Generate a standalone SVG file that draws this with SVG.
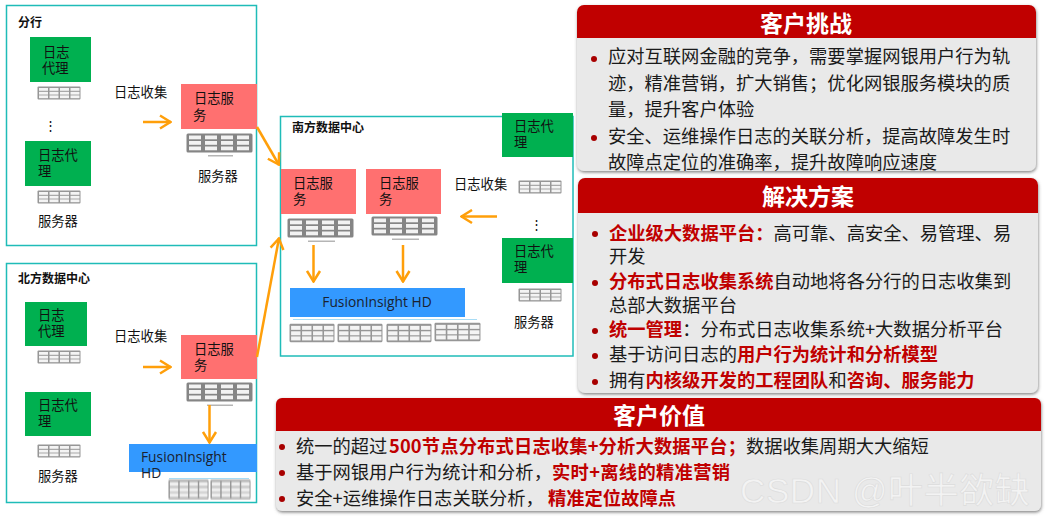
<svg xmlns="http://www.w3.org/2000/svg" width="1047" height="520" viewBox="0 0 1047 520">
<style>
text{font-family:"Noto Sans CJK SC","Liberation Sans",sans-serif;fill:#111}
.box{fill:#fff;stroke:#1fbcb8;stroke-width:1.5}
.t{font-size:13.3px}
.ti{font-size:12px;font-weight:700}
.en{font-family:"Open Sans","Noto Sans",sans-serif;font-size:13.8px;fill:#1a2230}
.g{fill:#00b050}.p{fill:#ff7070}.b{fill:#3399ff}
.conn{fill:none;stroke:#ff9f0a;stroke-width:2.5;marker-end:url(#arr)}
.hd{fill:#c00000}
.body{fill:#e9e9e9;filter:url(#sh)}
.h{font-size:23px;font-weight:700;fill:#fff;text-anchor:middle}
.l{font-size:18.3px;fill:#1a1a1a}
.r{font-weight:700;fill:#c00000}
.dot{fill:#a80000}
.mk{fill:#b5b5b5}
.cy{stroke:#a8dcf5;stroke-width:1}
</style>
<defs>
<marker id="arr" viewBox="0 0 13 16" refX="12" refY="8" markerWidth="13" markerHeight="16" markerUnits="userSpaceOnUse" orient="auto"><path d="M1,1.500 L11.500,8 L1,14.500" fill="none" stroke="#ff9f0a" stroke-width="2.5"/></marker>
<filter id="sh" x="-3%" y="-6%" width="106%" height="112%"><feDropShadow dx="0.5" dy="1.5" stdDeviation="1.5" flood-color="#555" flood-opacity="0.7"/></filter>
<filter id="bl" x="-5%" y="-10%" width="110%" height="120%"><feGaussianBlur stdDeviation="0.55"/></filter>
<symbol id="sa" viewBox="0 0 44 14" preserveAspectRatio="none"><g filter="url(#bl)"><rect x="0.5" y="0.5" width="43" height="13" rx="1" fill="#969696"/><g fill="#f4f4f4"><rect x="2" y="2" width="9" height="2.800"/><rect x="12.500" y="2" width="9" height="2.800"/><rect x="23" y="2" width="9" height="2.800"/><rect x="33.500" y="2" width="9" height="2.800"/><rect x="2" y="5.800" width="9" height="2.800"/><rect x="12.500" y="5.800" width="9" height="2.800"/><rect x="23" y="5.800" width="9" height="2.800"/><rect x="33.500" y="5.800" width="9" height="2.800"/><rect x="2" y="9.400" width="9" height="2.800"/><rect x="12.500" y="9.400" width="9" height="2.800"/><rect x="23" y="9.400" width="9" height="2.800"/><rect x="33.500" y="9.400" width="9" height="2.800"/></g></g></symbol>
<symbol id="sb" viewBox="0 0 67 20" preserveAspectRatio="none"><g filter="url(#bl)"><rect x="0.5" y="0.5" width="66" height="19" rx="1.500" fill="#858585"/><g fill="#f2f2f2"><rect x="3" y="2.500" width="12" height="3.800"/><rect x="19" y="2.500" width="12" height="3.800"/><rect x="35" y="2.500" width="12" height="3.800"/><rect x="51" y="2.500" width="12" height="3.800"/><rect x="3" y="8" width="12" height="3.800"/><rect x="19" y="8" width="12" height="3.800"/><rect x="35" y="8" width="12" height="3.800"/><rect x="51" y="8" width="12" height="3.800"/><rect x="3" y="13.500" width="12" height="3.800"/><rect x="19" y="13.500" width="12" height="3.800"/><rect x="35" y="13.500" width="12" height="3.800"/><rect x="51" y="13.500" width="12" height="3.800"/></g></g></symbol>
</defs>
<rect width="1047" height="520" fill="#fff"/>

<g id="branch-box"><rect class="box" x="6.500" y="5.500" width="250" height="240"/><text class="ti" x="18" y="27">分行</text></g>
<g id="north-box"><rect class="box" x="6.500" y="263.500" width="250" height="239"/><text class="ti" x="18" y="283">北方数据中心</text></g>
<g id="south-box"><rect class="box" x="280.500" y="116.500" width="292.500" height="239.500"/><text class="ti" x="292" y="132">南方数据中心</text></g>

<g id="branch-agent-1"><rect class="g" x="30" y="37" width="61" height="45"/><text class="t"><tspan x="43" y="57">日志</tspan><tspan x="42" y="73">代理</tspan></text><use href="#sa" x="37" y="86" width="44" height="14"/></g>
<text class="t" x="43.500" y="130" style="font-size:13px">⋮</text>
<g id="branch-agent-2"><rect class="g" x="25" y="141" width="66" height="45"/><text class="t"><tspan x="38" y="160">日志代</tspan><tspan x="38" y="176">理</tspan></text><use href="#sa" x="37" y="190" width="44" height="14"/><text class="t" x="38" y="226">服务器</text></g>
<g id="branch-log"><text class="t" x="114" y="97">日志收集</text></g>
<g id="branch-service"><rect class="p" x="181" y="84" width="76" height="45"/><text class="t"><tspan x="194" y="103">日志服</tspan><tspan x="193" y="120">务</tspan></text><use href="#sb" x="186" y="133" width="67" height="20"/><rect class="mk" x="208" y="155" width="25" height="1.500"/><text class="t" x="198" y="181">服务器</text></g>

<g id="north-agent-1"><rect class="g" x="25" y="302" width="62" height="44"/><text class="t"><tspan x="38" y="320">日志</tspan><tspan x="38" y="336">代理</tspan></text><use href="#sa" x="37" y="350" width="44" height="14"/></g>
<g id="north-agent-2"><rect class="g" x="25" y="392" width="66" height="44"/><text class="t"><tspan x="38" y="410">日志代</tspan><tspan x="38" y="426">理</tspan></text><use href="#sa" x="37" y="444" width="44" height="14"/><text class="t" x="38" y="481">服务器</text></g>
<g id="north-log"><text class="t" x="114" y="341">日志收集</text></g>
<g id="north-service"><rect class="p" x="181" y="335" width="76" height="44"/><text class="t"><tspan x="194" y="354">日志服</tspan><tspan x="194" y="370">务</tspan></text><use href="#sb" x="186" y="382" width="67" height="20"/><rect class="mk" x="207" y="404.500" width="26" height="1.500"/></g>
<g id="north-hd"><rect class="b" x="129" y="444" width="128" height="28"/><text class="en"><tspan x="141" y="462">FusionInsight</tspan><tspan x="141" y="478">HD</tspan></text><line class="cy" x1="169" y1="478.500" x2="249" y2="478.500"/><use href="#sa" x="168" y="479" width="41" height="21"/><use href="#sa" x="210" y="479" width="41" height="21"/></g>

<g id="south-service-1"><rect class="p" x="281" y="169" width="75" height="45"/><text class="t"><tspan x="293" y="188">日志服</tspan><tspan x="293" y="204">务</tspan></text><use href="#sb" x="287" y="218" width="67" height="20"/><rect class="mk" x="308" y="240.500" width="27" height="1.500"/></g>
<g id="south-service-2"><rect class="p" x="366" y="169" width="75" height="45"/><text class="t"><tspan x="379" y="188">日志服</tspan><tspan x="379" y="204">务</tspan></text><use href="#sb" x="371" y="216" width="67" height="20"/><rect class="mk" x="392" y="238.500" width="27" height="1.500"/></g>
<g id="south-hd"><rect class="b" x="290" y="288" width="175" height="29"/><text class="en" x="377" y="307" text-anchor="middle">FusionInsight HD</text><line class="cy" x1="293" y1="319.500" x2="477" y2="319.500"/><use href="#sa" x="289" y="323" width="46" height="20"/><use href="#sa" x="337" y="323" width="46" height="20"/><use href="#sa" x="386" y="323" width="46" height="20"/><use href="#sa" x="434" y="322" width="47" height="20"/></g>
<g id="south-agent-1"><rect class="g" x="502" y="113" width="71" height="44"/><text class="t"><tspan x="514" y="131">日志代</tspan><tspan x="514" y="147">理</tspan></text><use href="#sa" x="518" y="180" width="44" height="14"/></g>
<text class="t" x="529.500" y="229" style="font-size:13px">⋮</text>
<g id="south-agent-2"><rect class="g" x="502" y="238" width="71" height="45"/><text class="t"><tspan x="514" y="256">日志代</tspan><tspan x="514" y="272">理</tspan></text><use href="#sa" x="518" y="288" width="44" height="14"/><text class="t" x="514" y="327">服务器</text></g>
<g id="south-log"><text class="t" x="454" y="189">日志收集</text></g>

<g id="connectors">
<path class="conn" d="M143,122 H171"/>
<path class="conn" d="M143,367 H171"/>
<path class="conn" d="M257,127 L279,165"/>
<path class="conn" d="M257,357 L279,238"/>
<path class="conn" d="M209.500,405 V443"/>
<path class="conn" d="M313.500,245 V282"/>
<path class="conn" d="M403,245 V282"/>
<path class="conn" d="M497,216.500 H461"/>
</g>

<g id="panel-challenge">
<rect class="body" x="577" y="5" width="459" height="166" rx="7"/>
<path class="hd" d="M577,38 V12 a7,7 0 0 1 7,-7 H1029 a7,7 0 0 1 7,7 V38 Z"/>
<text class="h" x="806" y="32">客户挑战</text>
<circle class="dot" cx="594" cy="59" r="3"/><circle class="dot" cx="594" cy="138" r="3"/>
<text class="l" x="608" y="63">应对互联网金融的竞争，需要掌握网银用户行为轨</text>
<text class="l" x="608" y="90">迹，精准营销，扩大销售；优化网银服务模块的质</text>
<text class="l" x="608" y="116">量，提升客户体验</text>
<text class="l" x="608" y="143">安全、运维操作日志的关联分析，提高故障发生时</text>
<text class="l" x="608" y="169">故障点定位的准确率，提升故障响应速度</text>
</g>

<g id="panel-solution">
<rect class="body" x="578" y="178" width="460" height="215" rx="7"/>
<path class="hd" d="M578,213 V185 a7,7 0 0 1 7,-7 H1031 a7,7 0 0 1 7,7 V213 Z"/>
<text class="h" x="808" y="205">解决方案</text>
<circle class="dot" cx="595" cy="234" r="3"/><circle class="dot" cx="595" cy="283" r="3"/><circle class="dot" cx="595" cy="331" r="3"/><circle class="dot" cx="595" cy="356" r="3"/><circle class="dot" cx="595" cy="382" r="3"/>
<text class="l" x="609" y="240"><tspan class="r">企业级大数据平台：</tspan>高可靠、高安全、易管理、易</text>
<text class="l" x="609" y="263">开发</text>
<text class="l" x="609" y="288"><tspan class="r">分布式日志收集系统</tspan>自动地将各分行的日志收集到</text>
<text class="l" x="609" y="312">总部大数据平台</text>
<text class="l" x="609" y="336"><tspan class="r">统一管理</tspan>：分布式日志收集系统+大数据分析平台</text>
<text class="l" x="609" y="361">基于访问日志的<tspan class="r">用户行为统计和分析模型</tspan></text>
<text class="l" x="609" y="387">拥有<tspan class="r">内核级开发的工程团队</tspan>和<tspan class="r">咨询、服务能力</tspan></text>
</g>

<g id="panel-value">
<rect class="body" x="276" y="398" width="765" height="113" rx="6"/>
<path class="hd" d="M276,431 V404 a6,6 0 0 1 6,-6 H1035 a6,6 0 0 1 6,6 V431 Z"/>
<text class="h" x="659" y="424">客户价值</text>
<circle class="dot" cx="282" cy="447" r="3"/><circle class="dot" cx="282" cy="473" r="3"/><circle class="dot" cx="282" cy="499" r="3"/>
<text class="l" x="296" y="453">统一的超过<tspan class="r" x="389" letter-spacing=".15">500节点分布式日志收集+分析大数据平台；</tspan><tspan x="746">数据收集周期大大缩短</tspan></text>
<text class="l" x="296" y="479">基于网银用户行为统计和分析，<tspan class="r" x="552" letter-spacing=".3">实时+离线的精准营销</tspan></text>
<text class="l" x="296" y="505">安全+运维操作日志关联分析，<tspan class="r" x="548">精准定位故障点</tspan></text>
</g>

<text x="740" y="503" letter-spacing=".6" style="font-family:'Liberation Sans','Noto Sans CJK SC',sans-serif;font-size:35px;font-weight:400;fill:#f3f3f3;stroke:#dcdcdc;stroke-width:.6">CSDN @叶半欲缺</text>
</svg>
